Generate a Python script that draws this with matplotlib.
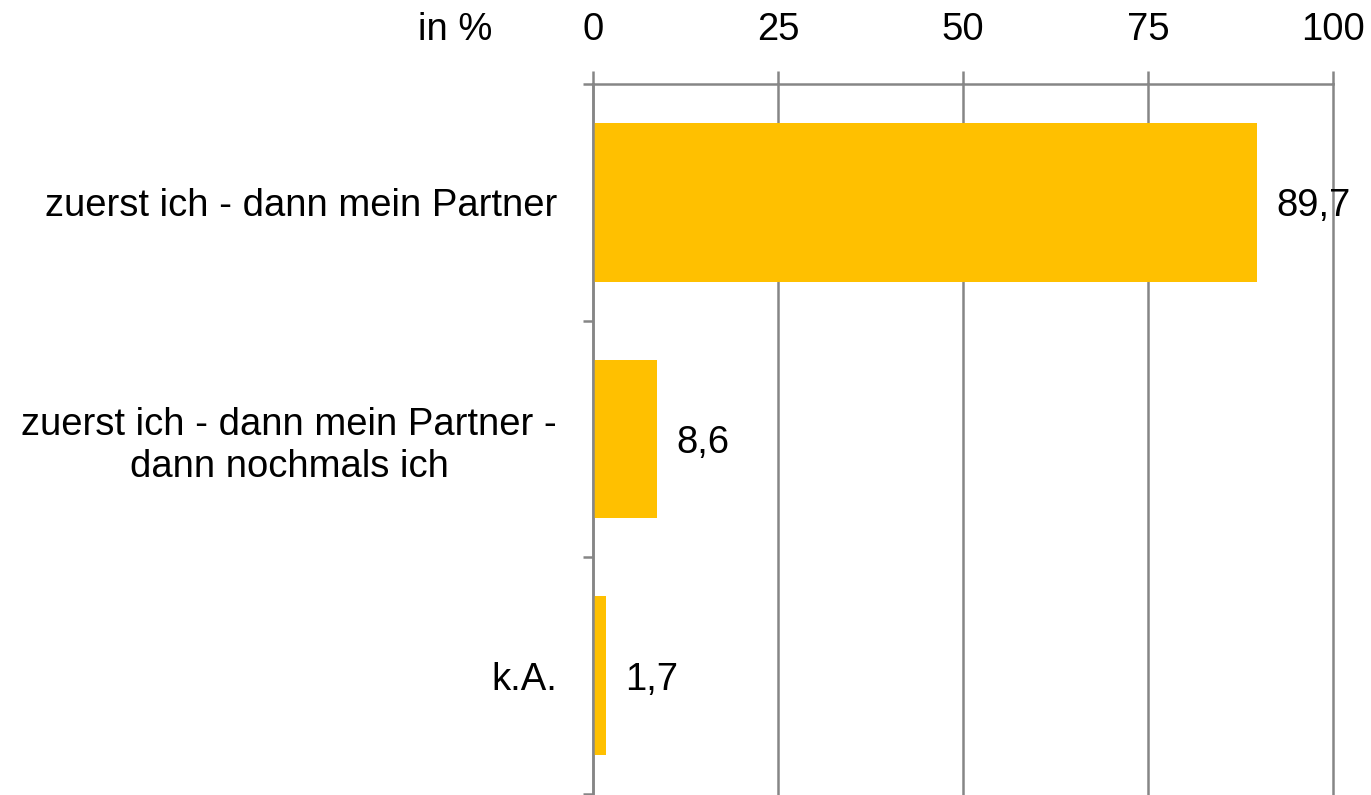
import matplotlib
matplotlib.use("Agg")
import matplotlib.pyplot as plt

categories = ["zuerst ich - dann mein Partner",
              "zuerst ich - dann mein Partner -\ndann nochmals ich",
              "k.A."]
values = [89.7, 8.6, 1.7]
value_labels = ["89,7", "8,6", "1,7"]
xticks = [0, 25, 50, 75, 100]

plt.rcParams['font.family'] = ['Liberation Sans', 'DejaVu Sans']
grey = '#868686'
fs = 27.5

fig = plt.figure(figsize=(13.71, 7.95), dpi=100)
ax = fig.add_axes([593/1371, 1 - 794/795, (1333-593)/1371, (794-84)/795])

ypos = list(range(len(categories)))
ax.barh(ypos, values, height=0.67, color='#FFC000', zorder=3)
ax.set_ylim(len(categories) - 0.5, -0.5)
ax.set_xlim(0, 100)

for y, v, lab in zip(ypos, values, value_labels):
    ax.annotate(lab, (v, y), xytext=(20, -4), textcoords='offset pixels',
                ha='left', va='center', fontsize=fs, color='black')

ax.xaxis.tick_top()
ax.set_xticks(xticks)
ax.set_xticklabels([str(t) for t in xticks])
ax.tick_params(axis='x', which='major', length=9.5, width=1.8, color=grey,
               labelsize=fs, pad=16.5, direction='out')
ax.set_yticks(ypos)
ax.set_yticklabels(categories)
ax.set_yticks([-0.5 + i for i in range(len(categories) + 1)], minor=True)
ax.tick_params(axis='y', which='major', length=0, labelsize=fs, pad=26)
ax.tick_params(axis='y', which='minor', length=7.5, width=1.8, color=grey)
for lbl in ax.get_yticklabels():
    lbl.set_multialignment('center')
    lbl.set_linespacing(1.2)

ax.grid(axis='x', color=grey, linewidth=1.8, zorder=0)
for gl in ax.get_xgridlines():
    gl.set_clip_on(False)
ax.set_axisbelow(True)
for s in ['right', 'bottom']:
    ax.spines[s].set_visible(False)
for s in ['top', 'left']:
    ax.spines[s].set_color(grey)
    ax.spines[s].set_linewidth(1.8)
ax.spines['left'].set_zorder(4)

fig.text(492/1371, 1 - 30/795, "in %", ha='right', va='center', fontsize=fs)

fig.savefig('out.png', dpi=100)
